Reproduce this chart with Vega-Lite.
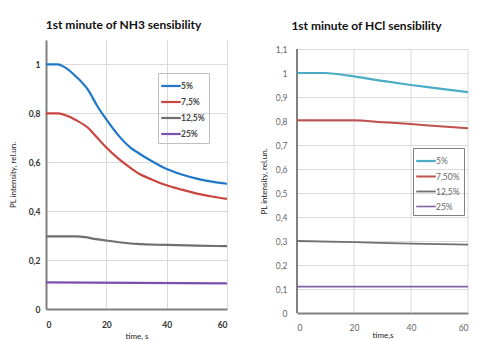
{
  "$schema": "https://vega.github.io/schema/vega-lite/v6.json",
  "padding": {"left": 9, "top": 19, "right": 0, "bottom": 0},
  "spacing": 28,
  "background": "white",
  "config": {
    "font": "Lato",
    "view": {"stroke": null},
    "axis": {"ticks": false, "domainColor": "#808080", "domainWidth": 2, "gridColor": "#dadada", "gridWidth": 1, "labelFontSize": 8.5, "titleFontSize": 8, "titleFontWeight": "normal", "titleColor": "#222"},
    "title": {"fontSize": 12, "fontWeight": "bold", "color": "#111"},
    "legend": {"strokeColor": "#bfbfbf", "padding": 4, "labelFontSize": 8.5, "symbolType": "M-1.3,0H1.3", "symbolSize": 225, "symbolStrokeWidth": 2, "rowPadding": 2, "labelOffset": 1}
  },
  "datasets": {
    "nh3": [
      {"t": 0, "v": 1.0, "s": "5%"}, {"t": 4, "v": 1.0, "s": "5%"}, {"t": 6, "v": 0.99, "s": "5%"}, {"t": 10, "v": 0.95, "s": "5%"}, {"t": 14, "v": 0.895, "s": "5%"}, {"t": 17, "v": 0.83, "s": "5%"}, {"t": 20, "v": 0.775, "s": "5%"}, {"t": 24, "v": 0.71, "s": "5%"}, {"t": 28, "v": 0.66, "s": "5%"}, {"t": 31, "v": 0.635, "s": "5%"}, {"t": 35, "v": 0.605, "s": "5%"}, {"t": 40, "v": 0.572, "s": "5%"}, {"t": 45, "v": 0.55, "s": "5%"}, {"t": 50, "v": 0.533, "s": "5%"}, {"t": 55, "v": 0.521, "s": "5%"}, {"t": 60, "v": 0.512, "s": "5%"},
      {"t": 0, "v": 0.8, "s": "7,5%"}, {"t": 4, "v": 0.8, "s": "7,5%"}, {"t": 7, "v": 0.79, "s": "7,5%"}, {"t": 10, "v": 0.772, "s": "7,5%"}, {"t": 14, "v": 0.74, "s": "7,5%"}, {"t": 17, "v": 0.7, "s": "7,5%"}, {"t": 20, "v": 0.66, "s": "7,5%"}, {"t": 24, "v": 0.615, "s": "7,5%"}, {"t": 28, "v": 0.577, "s": "7,5%"}, {"t": 31, "v": 0.552, "s": "7,5%"}, {"t": 35, "v": 0.53, "s": "7,5%"}, {"t": 40, "v": 0.506, "s": "7,5%"}, {"t": 45, "v": 0.488, "s": "7,5%"}, {"t": 50, "v": 0.472, "s": "7,5%"}, {"t": 55, "v": 0.46, "s": "7,5%"}, {"t": 60, "v": 0.45, "s": "7,5%"},
      {"t": 0, "v": 0.297, "s": "12,5%"}, {"t": 10, "v": 0.297, "s": "12,5%"}, {"t": 13, "v": 0.294, "s": "12,5%"}, {"t": 16, "v": 0.287, "s": "12,5%"}, {"t": 20, "v": 0.28, "s": "12,5%"}, {"t": 25, "v": 0.272, "s": "12,5%"}, {"t": 30, "v": 0.266, "s": "12,5%"}, {"t": 40, "v": 0.262, "s": "12,5%"}, {"t": 50, "v": 0.259, "s": "12,5%"}, {"t": 60, "v": 0.257, "s": "12,5%"},
      {"t": 0, "v": 0.109, "s": "25%"}, {"t": 30, "v": 0.107, "s": "25%"}, {"t": 60, "v": 0.105, "s": "25%"}
    ],
    "hcl": [
      {"t": 0, "v": 1.0, "s": "5%"}, {"t": 10, "v": 1.0, "s": "5%"}, {"t": 13, "v": 0.997, "s": "5%"}, {"t": 20, "v": 0.986, "s": "5%"}, {"t": 30, "v": 0.967, "s": "5%"}, {"t": 40, "v": 0.95, "s": "5%"}, {"t": 50, "v": 0.935, "s": "5%"}, {"t": 60, "v": 0.92, "s": "5%"},
      {"t": 0, "v": 0.803, "s": "7,50%"}, {"t": 20, "v": 0.803, "s": "7,50%"}, {"t": 30, "v": 0.795, "s": "7,50%"}, {"t": 40, "v": 0.787, "s": "7,50%"}, {"t": 50, "v": 0.778, "s": "7,50%"}, {"t": 60, "v": 0.77, "s": "7,50%"},
      {"t": 0, "v": 0.3, "s": "12,5%"}, {"t": 20, "v": 0.295, "s": "12,5%"}, {"t": 40, "v": 0.289, "s": "12,5%"}, {"t": 60, "v": 0.285, "s": "12,5%"},
      {"t": 0, "v": 0.11, "s": "25%"}, {"t": 60, "v": 0.11, "s": "25%"}
    ],
    "hclgrid": [{"g": 20}, {"g": 40}, {"g": 60}]
  },
  "resolve": {"scale": {"color": "independent", "strokeWidth": "independent"}, "legend": {"color": "independent"}},
  "hconcat": [
    {
      "width": 181,
      "height": 269,
      "title": {"text": "1st minute of NH3 sensibility", "dx": -13, "offset": 8},
      "data": {"name": "nh3"},
      "mark": {"type": "line", "interpolate": "monotone"},
      "encoding": {
        "x": {"field": "t", "type": "quantitative", "scale": {"domain": [0, 60], "nice": false}, "axis": {"values": [0, 20, 40, 60], "title": "time, s", "labelFontWeight": "bold", "labelColor": "#333", "labelPadding": 11, "titlePadding": 4}},
        "y": {"field": "v", "type": "quantitative", "scale": {"domain": [0, 1.1], "nice": false}, "axis": {"values": [0, 0.2, 0.4, 0.6, 0.8, 1], "title": "PL intensity, rel.un.", "labelExpr": "replace(format(datum.value, '~g'), '.', ',')", "labelFontWeight": "bold", "labelColor": "#333", "labelPadding": 6, "titlePadding": 11}},
        "color": {"field": "s", "type": "nominal", "sort": ["5%", "7,5%", "12,5%", "25%"], "scale": {"domain": ["5%", "7,5%", "12,5%", "25%"], "range": ["#1f77c8", "#c9453f", "#6f6f6f", "#7a4fb0"]}, "legend": {"title": null, "orient": "none", "legendX": 112, "legendY": 33, "labelFontWeight": "bold", "labelColor": "#444"}},
        "strokeWidth": {"field": "s", "type": "nominal", "scale": {"domain": ["5%", "7,5%", "12,5%", "25%"], "range": [2.2, 2.2, 1.6, 1.8]}, "legend": null}
      }
    },
    {
      "width": 171,
      "height": 273,
      "title": {"text": "1st minute of HCl sensibility", "dx": -16, "offset": 7},
      "layer": [
        {
          "data": {"name": "hclgrid"},
          "mark": {"type": "rule", "color": "#dadada", "strokeWidth": 1},
          "encoding": {
            "x": {"field": "g", "type": "quantitative", "scale": {"domain": [0, 60], "nice": false}, "axis": {"values": [0, 20, 40, 60], "grid": false, "title": "time,s", "labelColor": "#666", "labelPadding": 10, "titlePadding": 0}},
            "y": {"datum": 0, "type": "quantitative", "scale": {"domain": [0, 1.1375], "nice": false}, "axis": {"values": [0, 0.1, 0.2, 0.3, 0.4, 0.5, 0.6, 0.7, 0.8, 0.9, 1, 1.1], "grid": true, "domain": false, "title": "PL intensity, rel.un.", "labelExpr": "replace(format(datum.value, '~g'), '.', ',')", "labelColor": "#666", "labelPadding": 10, "titlePadding": 7, "titleY": 141}},
            "y2": {"datum": 1.1}
          }
        },
        {
          "data": {"name": "hclgrid"},
          "mark": {"type": "rule", "color": "#808080", "strokeWidth": 2},
          "encoding": {
            "x": {"datum": 0, "type": "quantitative", "axis": {"values": [0, 20, 40, 60], "grid": false, "title": "time,s", "labelColor": "#666", "labelPadding": 10, "titlePadding": 0}},
            "y": {"datum": 0, "type": "quantitative", "axis": {"values": [0, 0.1, 0.2, 0.3, 0.4, 0.5, 0.6, 0.7, 0.8, 0.9, 1, 1.1], "grid": true, "domain": false, "title": "PL intensity, rel.un.", "labelExpr": "replace(format(datum.value, '~g'), '.', ',')", "labelColor": "#666", "labelPadding": 10, "titlePadding": 7, "titleY": 141}},
            "y2": {"datum": 1.1}
          }
        },
        {
          "data": {"name": "hcl"},
          "mark": {"type": "line", "interpolate": "monotone"},
          "encoding": {
            "x": {"field": "t", "type": "quantitative", "axis": {"values": [0, 20, 40, 60], "grid": false, "title": "time,s", "labelColor": "#666", "labelPadding": 10, "titlePadding": 0}},
            "y": {"field": "v", "type": "quantitative", "axis": {"values": [0, 0.1, 0.2, 0.3, 0.4, 0.5, 0.6, 0.7, 0.8, 0.9, 1, 1.1], "grid": true, "domain": false, "title": "PL intensity, rel.un.", "labelExpr": "replace(format(datum.value, '~g'), '.', ',')", "labelColor": "#666", "labelPadding": 10, "titlePadding": 7, "titleY": 141}},
            "color": {"field": "s", "type": "nominal", "sort": ["5%", "7,50%", "12,5%", "25%"], "scale": {"domain": ["5%", "7,50%", "12,5%", "25%"], "range": ["#4bacc6", "#c0504d", "#707070", "#8064a2"]}, "legend": {"title": null, "orient": "none", "legendX": 116, "legendY": 108, "labelColor": "#666", "strokeColor": "#808080"}},
            "strokeWidth": {"field": "s", "type": "nominal", "scale": {"domain": ["5%", "7,50%", "12,5%", "25%"], "range": [2.2, 1.6, 1.6, 2.5]}, "legend": null}
          }
        }
      ]
    }
  ]
}
